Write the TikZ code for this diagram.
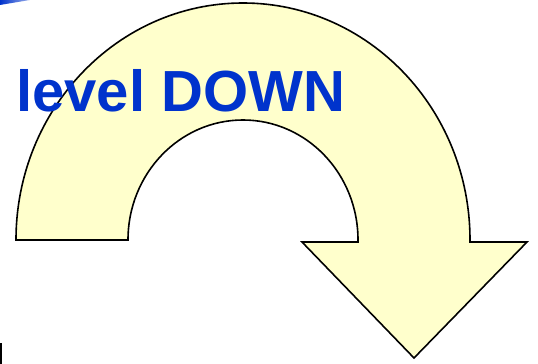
\documentclass[tikz,border=0pt]{standalone}
\usepackage{fontspec}
\newfontfamily\arialfont{Liberation Sans}
\usetikzlibrary{positioning}

\definecolor{archfill}{RGB}{255,255,204}
\definecolor{textblue}{RGB}{0,51,204}

\begin{document}
\begin{tikzpicture}[x=1pt, y=1pt,
  arch/.style={draw=black, line width=1.6pt, line join=miter, fill=archfill},
  caption/.style={anchor=base west, inner sep=0pt, text=textblue, font=\arialfont\bfseries\fontsize{58}{60}\selectfont}
]
\useasboundingbox (0,0) rectangle (538,364);

% corner marks
\shade[left color=textblue, right color=textblue!40] (0,364) -- (0,359) -- (30,364) -- cycle;
\fill[black] (0,0) rectangle (2,21);

% the turning arrow
\draw[arch] (16,124) arc[start angle=180, end angle=0, x radius=227, y radius=237]
  -- (470,122) -- (527,122) -- (414,6) -- (302,122) -- (358,122) -- (358,124)
  arc[start angle=0, end angle=180, x radius=115, y radius=120] -- cycle;

\node[caption] (title) at (16,252) {level DOWN};

\end{tikzpicture}
\end{document}
